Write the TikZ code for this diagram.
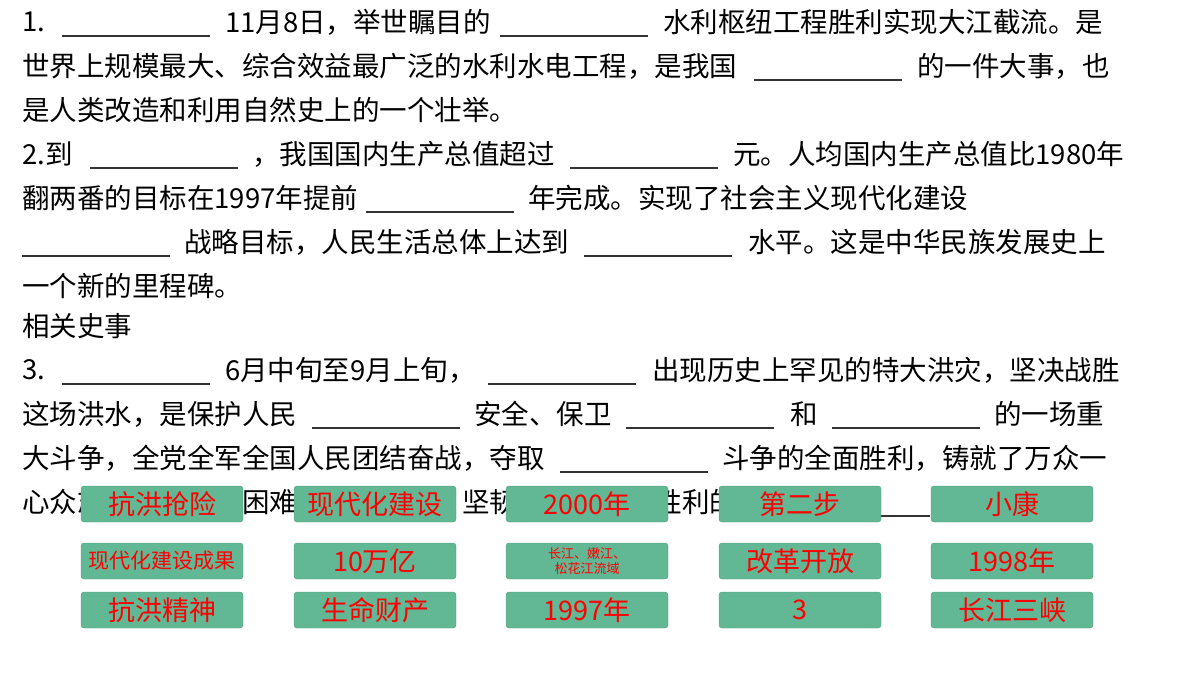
\documentclass[tikz,border=0pt]{standalone}
\usepackage{fontspec}
\setmainfont{Noto Sans CJK SC}
\usetikzlibrary{positioning}
\definecolor{btnfill}{HTML}{62B795}
\definecolor{btndraw}{HTML}{4E9C7C}
\tikzset{
    txt/.style={
    anchor=west,inner sep=0pt,font=\fontsize{27.5}{30}\selectfont
    },
    blank/.style={
    draw=black!80,line width=1.4pt
    },
    btn/.style={
    rectangle,rounded corners=3pt,fill=btnfill,draw=btndraw,minimum width=162pt,minimum height=36pt,
    text=red,font=\fontsize{27}{30}\selectfont,inner sep=0pt,align=center
    },
}
\begin{document}
\begin{tikzpicture}[x=1pt,y=-1pt]
   \useasboundingbox (0,0) rectangle (1200,675);
   % question 1
   \node[txt] (q1a) at (22,22) {1.};
   \node[txt] (q1b) at (225,22) {11月8日，举世瞩目的};
   \node[txt] (q1c) at (663,22) {水利枢纽工程胜利实现大江截流。是};
   \node[txt] (q1d) at (22,66) {世界上规模最大、综合效益最广泛的水利水电工程，是我国};
   \node[txt] (q1e) at (917,66) {的一件大事，也};
   \node[txt] (q1f) at (22,110) {是人类改造和利用自然史上的一个壮举。};
   % question 2
   \node[txt] (q2a) at (22,154) {2.到};
   \node[txt] (q2b) at (252,154) {，我国国内生产总值超过};
   \node[txt] (q2c) at (733,154) {元。人均国内生产总值比1980年};
   \node[txt] (q2d) at (22,198) {翻两番的目标在1997年提前};
   \node[txt] (q2e) at (528,198) {年完成。实现了社会主义现代化建设};
   \node[txt] (q2f) at (184,242) {战略目标，人民生活总体上达到};
   \node[txt] (q2g) at (748,242) {水平。这是中华民族发展史上};
   \node[txt] (q2h) at (22,286) {一个新的里程碑。};
   \node[txt] (rel) at (22,326) {相关史事};
   % question 3
   \node[txt] (q3a) at (22,370) {3.};
   \node[txt] (q3b) at (225,370) {6月中旬至9月上旬，};
   \node[txt] (q3c) at (652,370) {出现历史上罕见的特大洪灾，坚决战胜};
   \node[txt] (q3d) at (22,414) {这场洪水，是保护人民};
   \node[txt] (q3e) at (474,414) {安全、保卫};
   \node[txt] (q3f) at (790,414) {和};
   \node[txt] (q3g) at (994,414) {的一场重};
   \node[txt] (q3h) at (22,458) {大斗争，全党全军全国人民团结奋战，夺取};
   \node[txt] (q3i) at (722,458) {斗争的全面胜利，铸就了万众一};
   \node[txt] (q3j) at (22,502) {心众志成城、不怕困难、顽强拼搏、坚韧不拔、敢于胜利的伟大};
   % blanks
   \foreach \xa/\ya in {62/36,500/36,754/80,90/168,570/168,366/212,22/256,584/256,
                        62/384,488/384,312/428,626/428,832/428,560/472,782/516}
     \draw[blank] (\xa,\ya) -- ++(148,0);
   % answer buttons
   \node[btn] (b11) at (162,504) {抗洪抢险};
   \node[btn] (b12) at (375,504) {现代化建设};
   \node[btn] (b13) at (587,504) {2000年};
   \node[btn] (b14) at (800,504) {第二步};
   \node[btn] (b15) at (1012,504) {小康};
   \node[btn,font=\fontsize{21}{22}\selectfont] (b21) at (162,561) {现代化建设成果};
   \node[btn] (b22) at (375,561) {10万亿};
   \node[btn,font=\fontsize{13}{15}\selectfont] (b23) at (587,561) {长江、嫩江、\\松花江流域};
   \node[btn] (b24) at (800,561) {改革开放};
   \node[btn] (b25) at (1012,561) {1998年};
   \node[btn] (b31) at (162,610) {抗洪精神};
   \node[btn] (b32) at (375,610) {生命财产};
   \node[btn] (b33) at (587,610) {1997年};
   \node[btn] (b34) at (800,610) {3};
   \node[btn] (b35) at (1012,610) {长江三峡};
\end{tikzpicture}
\end{document}
